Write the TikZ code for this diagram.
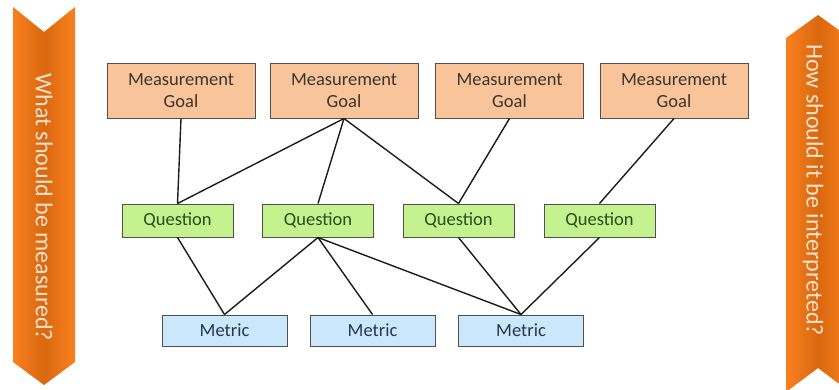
\documentclass[tikz,border=0pt]{standalone}
\usepackage{fontspec}
\setmainfont{Carlito}
\definecolor{goalfill}{HTML}{F9C49A}
\definecolor{qfill}{HTML}{C4F28F}
\definecolor{mfill}{HTML}{CBE7FB}
\definecolor{boxline}{HTML}{505050}
\definecolor{goaltext}{HTML}{3A3530}
\definecolor{qtext}{HTML}{2F4A1C}
\definecolor{mtext}{HTML}{24384A}
\definecolor{bannerlight}{HTML}{F9801F}
\definecolor{bannerdark}{HTML}{D9680F}
\definecolor{bannertext}{HTML}{FBE3CF}
\definecolor{linkcol}{HTML}{1C1C1C}
\tikzset{
  boxbase/.style={draw=boxline, line width=1pt, align=center, inner sep=0pt, font=\fontsize{18.5}{22.5}\selectfont},
  goalbox/.style={boxbase, fill=goalfill, text=goaltext, minimum width=148pt, minimum height=55pt},
  qbox/.style={boxbase, fill=qfill, text=qtext, minimum width=111pt, minimum height=33pt},
  mbox/.style={boxbase, fill=mfill, text=mtext, minimum width=125pt, minimum height=31pt},
  link/.style={draw=linkcol, line width=1.4pt},
  bannerlabel/.style={rotate=-90, text=bannertext, font=\fontsize{24}{28}\selectfont, inner sep=0pt}
}
\begin{document}
\begin{tikzpicture}[x=1pt,y=-1pt]
\useasboundingbox (0,0) rectangle (839,389);
\clip (0,0) rectangle (839,389);
% left banner
\shade[left color=bannerlight, right color=bannerlight, middle color=bannerdark]
  (13,7) -- (44,32) -- (75,7) -- (75,362) -- (44,385) -- (13,362) -- cycle;
\node[bannerlabel] (lefttext) at (44,207) {What should be measured?};
% right banner
\shade[left color=bannerlight, right color=bannerlight, middle color=bannerdark]
  (786,38) -- (818,15) -- (850,38) -- (850,392) -- (818,368) -- (786,392) -- cycle;
\node[bannerlabel] (righttext) at (813,190) {How should it be interpreted?};
% goals
\node[goalbox] (g1) at (181,90.5) {Measurement\\Goal};
\node[goalbox] (g2) at (344,90.5) {Measurement\\Goal};
\node[goalbox] (g3) at (509.5,90.5) {Measurement\\Goal};
\node[goalbox] (g4) at (674,90.5) {Measurement\\Goal};
% questions
\node[qbox] (q1) at (177.5,220.5) {Question};
\node[qbox] (q2) at (318,220.5) {Question};
\node[qbox] (q3) at (458.5,220.5) {Question};
\node[qbox] (q4) at (599.5,220.5) {Question};
% metrics
\node[mbox] (m1) at (224.5,330.5) {Metric};
\node[mbox] (m2) at (372.5,330.5) {Metric};
\node[mbox] (m3) at (521,330.5) {Metric};
% links goals-questions
\draw[link] (g1.south) -- (q1.north);
\draw[link] (g2.south) -- (q1.north);
\draw[link] (g2.south) -- (q2.north);
\draw[link] (g2.south) -- (q3.north);
\draw[link] (g3.south) -- (q3.north);
\draw[link] (g4.south) -- (q4.north);
% links questions-metrics
\draw[link] (q1.south) -- (m1.north);
\draw[link] (q2.south) -- (m1.north);
\draw[link] (q2.south) -- (m2.north);
\draw[link] (q2.south) -- (m3.north);
\draw[link] (q3.south) -- (m3.north);
\draw[link] (q4.south) -- (m3.north);
\end{tikzpicture}
\end{document}
